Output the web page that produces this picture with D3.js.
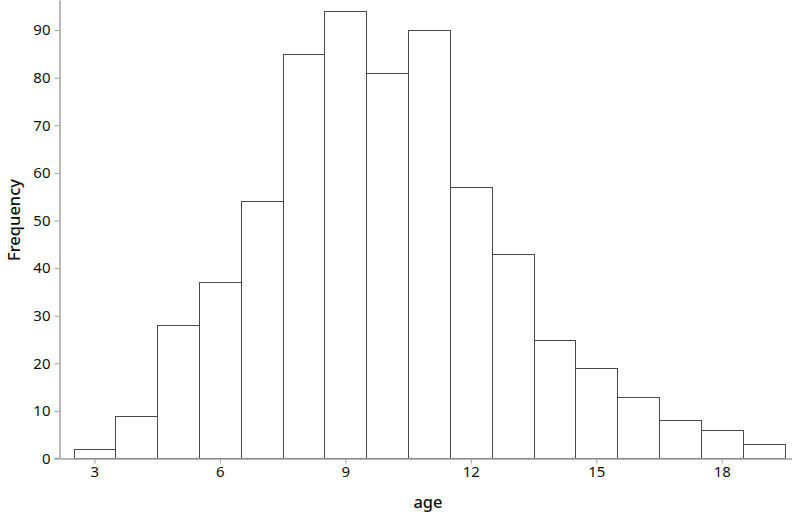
<!DOCTYPE html>
<html>
<head>
<meta charset="utf-8">
<script src="https://cdn.jsdelivr.net/npm/d3@7"></script>
<style>
  body { margin: 0; background: #fff; }
  svg { font-family: "Noto Sans", sans-serif; }
</style>
</head>
<body>
<div id="chart"></div>
<script>
// histogram of age, bins of width 1 starting at 2.5
var binStarts = [2.5, 3.5, 4.5, 5.5, 6.5, 7.5, 8.5, 9.5, 10.5, 11.5, 12.5, 13.5, 14.5, 15.5, 16.5, 17.5, 18.5]
var counts    = [2, 9, 28, 37, 54, 85, 94, 81, 90, 57, 43, 25, 19, 13, 8, 6, 3]
var xTicks = [3, 6, 9, 12, 15, 18]
var yTicks = [0, 10, 20, 30, 40, 50, 60, 70, 80, 90]

var width = 792, height = 515

var svg = d3.select("#chart")
  .append("svg")
    .attr("width", width)
    .attr("height", height)

// x: 2.5 -> 73.5, 19.5 -> 784.5 ; axis runs from y-axis to right edge
var xInner = d3.scaleLinear().domain([2.5, 19.5]).range([73.5, 784.5])
var x = d3.scaleLinear()
  .domain([xInner.invert(59.5), xInner.invert(width)])
  .range([59.5, width])

var y0 = 458.5, perUnit = 4.76
var y = d3.scaleLinear()
  .domain([0, y0 / perUnit])
  .range([y0, 0])

// bars
svg.append("g")
  .selectAll("rect")
  .data(binStarts)
  .enter()
  .append("rect")
    .attr("x", function(d){ return Math.round(x(d)) + 0.5 })
    .attr("width", function(d){ return Math.round(x(d + 1)) - Math.round(x(d)) })
    .attr("y", function(d, i){ return Math.round(y(counts[i])) + 0.5 })
    .attr("height", function(d, i){ return y0 - Math.round(y(counts[i])) - 0.5 })
    .style("fill", "#fff")
    .style("stroke", "#4a4a4a")
    .style("stroke-width", 1)

// x axis
var xAxis = svg.append("g")
  .attr("transform", "translate(0," + y0 + ")")
  .call(d3.axisBottom(x).tickValues(xTicks).tickSize(5).tickPadding(3).tickSizeOuter(0))
xAxis.select(".domain").attr("stroke", "#a0a0a0").attr("stroke-width", 1.5)
xAxis.selectAll(".tick line").attr("stroke", "#a0a0a0")
xAxis.selectAll("text").style("font-size", "15px").style("fill", "#111").style("font-family", "Noto Sans")

// y axis
var yAxis = svg.append("g")
  .attr("transform", "translate(59.5,0)")
  .call(d3.axisLeft(y).tickValues(yTicks).tickSize(5).tickPadding(4).tickSizeOuter(0))
yAxis.select(".domain").attr("stroke", "#a0a0a0").attr("stroke-width", 1.5)
yAxis.selectAll(".tick line").attr("stroke", "#a0a0a0")
yAxis.selectAll("text").style("font-size", "15px").style("fill", "#111").style("font-family", "Noto Sans")

// extend x axis line left to the y-tick ends
svg.append("line")
  .attr("x1", 54.5).attr("x2", 59.5)
  .attr("y1", y0).attr("y2", y0)
  .attr("stroke", "#a0a0a0").attr("stroke-width", 1.5)

svg.append("text")
  .attr("x", 428)
  .attr("y", 508)
  .attr("text-anchor", "middle")
  .style("font-size", "16.5px")
  .style("font-weight", "500")
  .style("fill", "#111")
  .text("age")

svg.append("text")
  .attr("transform", "translate(20,220) rotate(-90)")
  .attr("text-anchor", "middle")
  .style("font-size", "16.5px")
  .style("font-weight", "500")
  .style("fill", "#111")
  .text("Frequency")
</script>
</body>
</html>
